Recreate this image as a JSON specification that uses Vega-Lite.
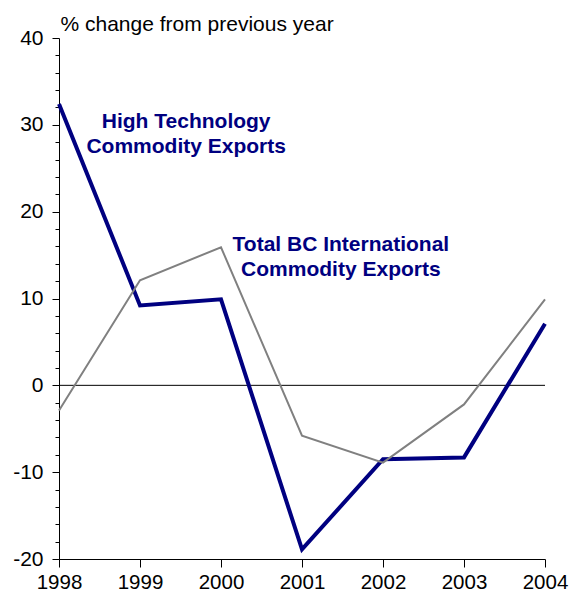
{
  "$schema": "https://vega.github.io/schema/vega-lite/v6.json",
  "width": 486,
  "height": 521,
  "autosize": {"type": "none"},
  "padding": {"left": 59, "top": 38, "right": 24, "bottom": 33},
  "background": "white",
  "config": {
    "view": {"stroke": null},
    "font": "Liberation Sans",
    "axis": {"grid": false}
  },
  "datasets": {
    "series": [
      {"year": 1998, "series": "High Technology", "value": 32.4},
      {"year": 1999, "series": "High Technology", "value": 9.2},
      {"year": 2000, "series": "High Technology", "value": 9.9},
      {"year": 2001, "series": "High Technology", "value": -18.9},
      {"year": 2002, "series": "High Technology", "value": -8.5},
      {"year": 2003, "series": "High Technology", "value": -8.3},
      {"year": 2004, "series": "High Technology", "value": 7.1},
      {"year": 1998, "series": "Total BC", "value": -2.9},
      {"year": 1999, "series": "Total BC", "value": 12.1},
      {"year": 2000, "series": "Total BC", "value": 15.9},
      {"year": 2001, "series": "Total BC", "value": -5.8},
      {"year": 2002, "series": "Total BC", "value": -8.9},
      {"year": 2003, "series": "Total BC", "value": -2.2},
      {"year": 2004, "series": "Total BC", "value": 9.9}
    ],
    "labels": [
      {"year": 1999.57, "value": 30.3, "label": "High Technology\nCommodity Exports"},
      {"year": 2001.48, "value": 16.2, "label": "Total BC International\nCommodity Exports"}
    ],
    "zero": [{"v": 0}]
  },
  "layer": [
    {
      "data": {"name": "zero"},
      "mark": {"type": "rule", "color": "black", "strokeWidth": 1},
      "encoding": {
        "y": {
          "field": "v", "type": "quantitative",
          "scale": {"domain": [-20, 40], "nice": false, "zero": false},
          "axis": {
            "values": [-20, -18, -16, -14, -12, -10, -8, -6, -4, -2, 0, 2, 4, 6, 8, 10, 12, 14, 16, 18, 20, 22, 24, 26, 28, 30, 32, 34, 36, 38, 40],
            "tickCount": 100,
            "labelExpr": "datum.value % 10 === 0 ? '' + datum.value : ''",
            "tickSize": {"condition": {"test": "datum.value % 10 === 0", "value": 7}, "value": 4},
            "tickColor": "black",
            "domainColor": "black",
            "labelFontSize": 21,
            "labelColor": "black",
            "labelPadding": 9,
            "labelFlush": false,
            "labelOverlap": false,
            "title": "% change from previous year",
            "titleAngle": 0,
            "titleAlign": "left",
            "titleBaseline": "alphabetic",
            "titleX": 1,
            "titleY": -8,
            "titleFontSize": 21,
            "titleFontWeight": "normal",
            "titleColor": "black"
          }
        }
      }
    },
    {
      "data": {"name": "series"},
      "transform": [{"filter": "datum.series === 'High Technology'"}],
      "mark": {"type": "line", "color": "#000080", "strokeWidth": 4, "strokeJoin": "miter"},
      "encoding": {
        "x": {
          "field": "year", "type": "quantitative",
          "scale": {"domain": [1998, 2004], "nice": false, "zero": false},
          "axis": {
            "values": [1998, 1999, 2000, 2001, 2002, 2003, 2004],
            "tickCount": 20,
            "format": "d",
            "title": null,
            "domainColor": "black",
            "domainWidth": 1,
            "tickColor": "black",
            "tickSize": 8,
            "labelFontSize": 20.5,
            "labelColor": "black",
            "labelPadding": 5,
            "labelFlush": false,
            "labelOverlap": false
          }
        },
        "y": {"field": "value", "type": "quantitative"}
      }
    },
    {
      "data": {"name": "series"},
      "transform": [{"filter": "datum.series === 'Total BC'"}],
      "mark": {"type": "line", "color": "#808080", "strokeWidth": 2},
      "encoding": {
        "x": {"field": "year", "type": "quantitative"},
        "y": {"field": "value", "type": "quantitative"}
      }
    },
    {
      "data": {"name": "labels"},
      "mark": {"type": "text", "font": "Liberation Sans", "fontWeight": "bold", "fontSize": 21, "color": "#000080", "align": "center", "baseline": "middle", "lineBreak": "\n", "lineHeight": 25},
      "encoding": {
        "x": {"field": "year", "type": "quantitative"},
        "y": {"field": "value", "type": "quantitative"},
        "text": {"field": "label"}
      }
    }
  ]
}
